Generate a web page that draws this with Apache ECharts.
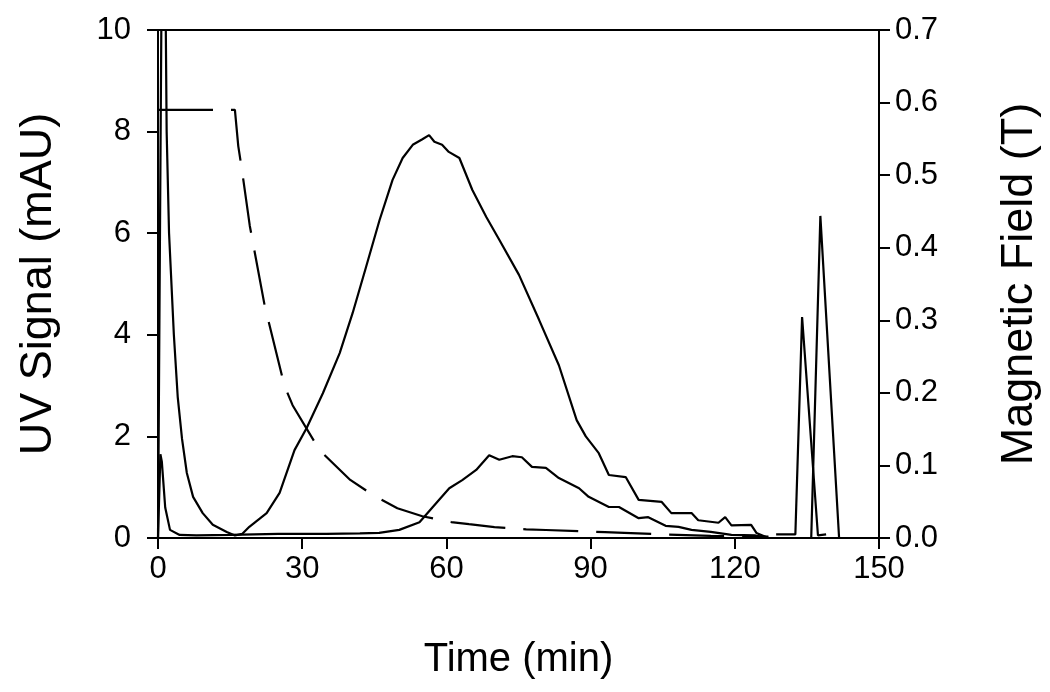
<!DOCTYPE html>
<html>
<head>
<meta charset="utf-8">
<script src="https://cdn.jsdelivr.net/npm/echarts@6/dist/echarts.min.js"></script>
<style>
  html, body { margin: 0; padding: 0; background: #fff; }
  #chart { width: 1050px; height: 692px; }
</style>
</head>
<body>
<div id="chart"></div>
<script>
// UV trace 1 (broad peak + late peak)
const timeA = [0, 0.4, 1.1, 1.8, 2.3, 3.3, 4.1, 5.0, 6.0, 7.3, 9.3, 11.4, 14.3, 16.0, 17.5, 19.0, 22.6, 25.3, 28.4, 30.9, 34.3, 37.8, 40.5, 43.3, 46.1, 48.8, 50.9, 53.0, 55.0, 56.4, 57.5, 59.1, 60.5, 62.7, 65.4, 68.3, 71.0, 75.1, 79.3, 83.4, 87.1, 89.0, 91.7, 93.8, 97.3, 100.0, 104.8, 106.8, 108.3, 111.0, 112.4, 116.6, 118.0, 119.3, 123.4, 124.5, 127.0]
const uvA = [0, 0, 16, 8.0, 6.0, 4.0, 2.78, 1.95, 1.28, 0.81, 0.49, 0.26, 0.12, 0.05, 0.08, 0.22, 0.49, 0.89, 1.73, 2.16, 2.85, 3.64, 4.43, 5.34, 6.26, 7.05, 7.48, 7.74, 7.85, 7.93, 7.8, 7.74, 7.6, 7.48, 6.85, 6.32, 5.87, 5.18, 4.29, 3.4, 2.32, 2.0, 1.67, 1.24, 1.2, 0.75, 0.71, 0.49, 0.49, 0.49, 0.35, 0.3, 0.41, 0.25, 0.26, 0.1, 0]
const timeA2 = [135.9, 137.8, 141.7]
const uvA2 = [0, 6.34, 0]

// UV trace 2 (small peak)
const timeB = [0, 0.5, 0.8, 1.5, 2.5, 4.5, 8, 15, 25, 35, 42, 46, 50.2, 54.4, 57.9, 60.6, 63.3, 66.2, 68.9, 71, 73.7, 75.7, 77.8, 80.7, 83.4, 87.6, 89.6, 93.8, 95.9, 100, 102, 105.6, 108.3, 111, 115, 119.3, 124.3, 127]
const uvB = [0, 1.65, 1.5, 0.6, 0.16, 0.06, 0.05, 0.06, 0.08, 0.08, 0.09, 0.1, 0.16, 0.31, 0.69, 0.98, 1.14, 1.34, 1.63, 1.54, 1.61, 1.59, 1.4, 1.38, 1.18, 0.98, 0.81, 0.61, 0.61, 0.39, 0.41, 0.24, 0.22, 0.16, 0.12, 0.06, 0.05, 0]
const timeB2 = [128.6, 132.6, 134.0, 137.3, 139.0]
const uvB2 = [0.07, 0.07, 4.35, 0.05, 0.07]

// magnetic field (dashed, right axis)
const timeField = [0, 16, 16.7, 17.4, 19.1, 22.2, 26.3, 28, 33.6, 40, 45, 49.8, 55, 61, 64.7, 70, 76.6, 80.7, 93, 97, 105, 115, 127]
const field = [0.59, 0.59, 0.54, 0.51, 0.43, 0.32, 0.21, 0.183, 0.121, 0.08, 0.058, 0.041, 0.03, 0.022, 0.019, 0.015, 0.012, 0.011, 0.008, 0.007, 0.005, 0.003, 0.002]

const xTicks = [0, 30, 60, 90, 120, 150]

function zip(xs, ys) {
  return xs.map((x, i) => [x, ys[i]])
}

const traceA = zip(timeA, uvA).concat([[null, null]], zip(timeA2, uvA2))
const traceB = zip(timeB, uvB).concat([[null, null]], zip(timeB2, uvB2))

const font = '"Liberation Sans", Arial, sans-serif'
const labelStyle = { color: '#000', fontSize: 31, fontFamily: font }
const axisCommon = {
  axisLine: { show: true, lineStyle: { color: '#000', width: 2 } },
  axisTick: { show: true, inside: false, length: 11, lineStyle: { color: '#000', width: 2 } },
  splitLine: { show: false },
  nameLocation: 'middle'
}

const chart = echarts.init(document.getElementById('chart'), null, { renderer: 'canvas' })

chart.setOption({
  backgroundColor: '#fff',
  animation: false,
  grid: {
    left: 158, right: 166, top: 30, bottom: 154,
    show: true, borderColor: '#000', borderWidth: 2, backgroundColor: 'transparent'
  },
  xAxis: {
    ...axisCommon,
    type: 'value',
    min: xTicks[0],
    max: xTicks[xTicks.length - 1],
    interval: 30,
    axisLabel: { ...labelStyle, margin: 16 },
    name: 'Time (min)',
    nameGap: 102,
    nameTextStyle: { color: '#000', fontSize: 40, fontFamily: font }
  },
  yAxis: [
    {
      ...axisCommon,
      type: 'value',
      min: 0, max: 10, interval: 2,
      position: 'left',
      axisLabel: { ...labelStyle, margin: 27 },
      name: 'UV Signal (mAU)',
      nameGap: 97,
      nameRotate: 90,
      nameTextStyle: { color: '#000', fontSize: 45, fontFamily: font }
    },
    {
      ...axisCommon,
      type: 'value',
      min: 0, max: 0.7, interval: 0.1,
      position: 'right',
      axisLabel: { ...labelStyle, margin: 16, formatter: (v) => v.toFixed(1) },
      name: 'Magnetic Field (T)',
      nameGap: 118,
      nameRotate: 90,
      nameTextStyle: { color: '#000', fontSize: 45, fontFamily: font }
    }
  ],
  series: [
    {
      type: 'line', data: traceA, yAxisIndex: 0, showSymbol: false, clip: true,
      lineStyle: { color: '#000', width: 2.2 }, connectNulls: false
    },
    {
      type: 'line', data: traceB, yAxisIndex: 0, showSymbol: false, clip: true,
      lineStyle: { color: '#000', width: 2.2 }, connectNulls: false
    },
    {
      type: 'line', data: zip(timeField, field), yAxisIndex: 1, showSymbol: false,
      lineStyle: { color: '#000', width: 2.2, type: [55, 18] }
    }
  ]
})
</script>
</body>
</html>
